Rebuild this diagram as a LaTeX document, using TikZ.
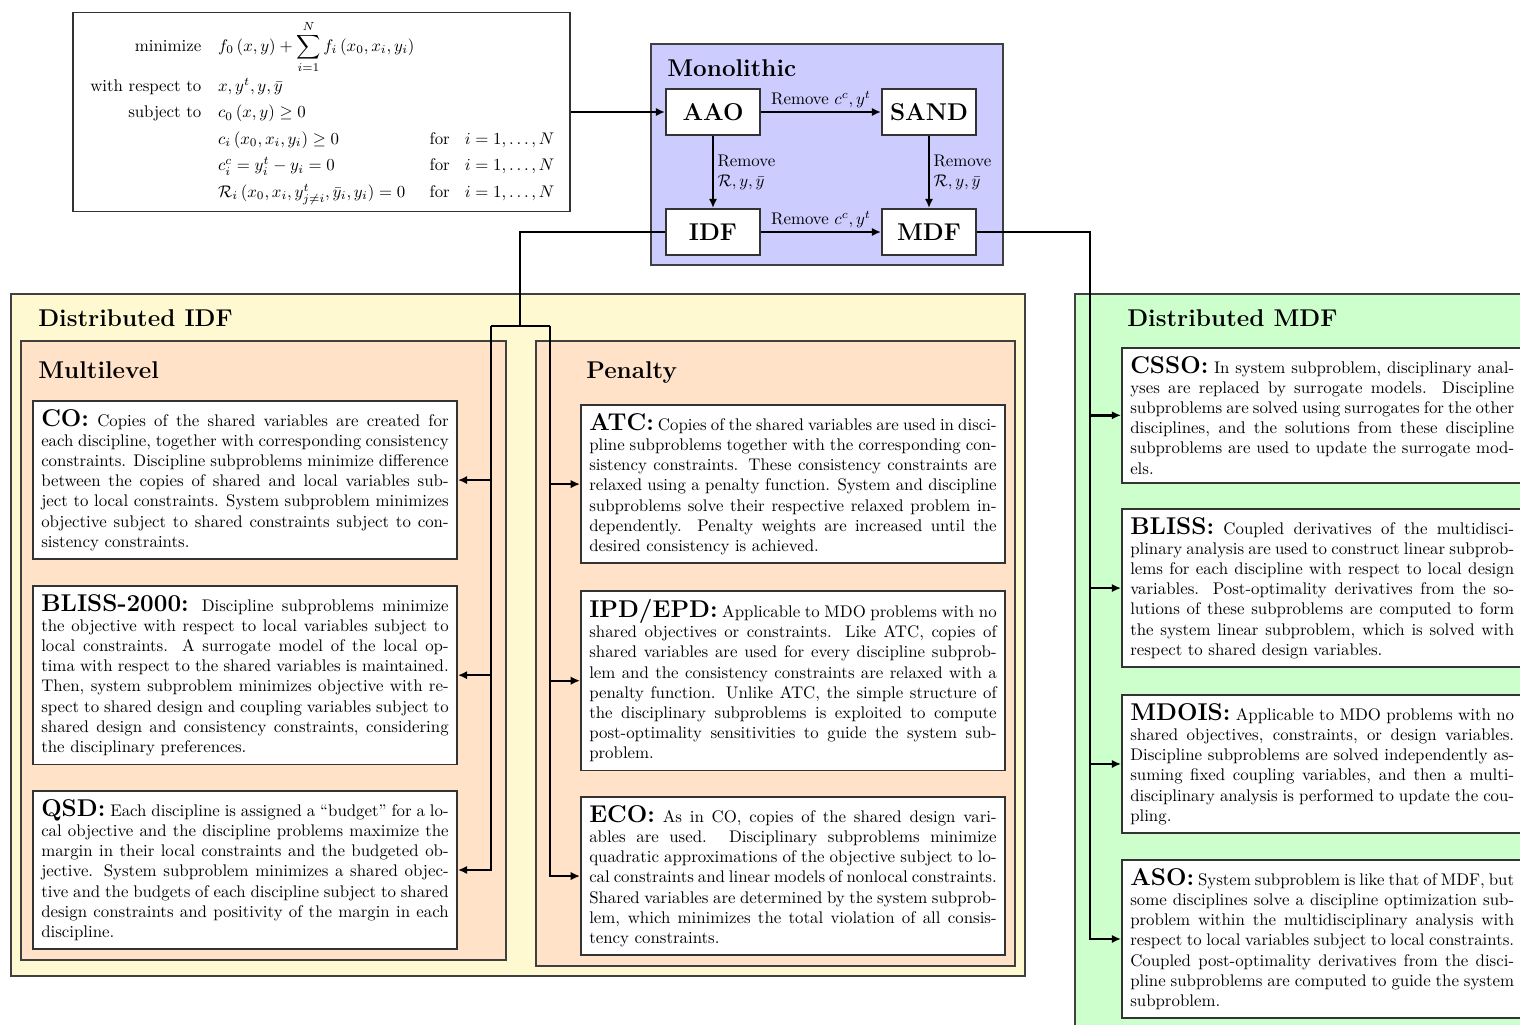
\documentclass[tikz,border=0pt]{standalone}
\usepackage{amsmath,amssymb}
\usetikzlibrary{arrows.meta,fit}
\setlength{\parindent}{0pt}
\definecolor{monofill}{RGB}{204,204,255}
\definecolor{idffill}{RGB}{255,249,210}
\definecolor{penfill}{RGB}{255,226,200}
\definecolor{mdffill}{RGB}{204,255,204}
\newcommand{\pa}[1]{\mathinner{(#1)}}
\begin{document}
\begin{tikzpicture}[x=0.594pt,y=-0.594pt,
  cluster/.style={draw=black!75, line width=1pt, inner sep=0pt},
  desc/.style={draw=black!80, fill=white, line width=1pt, text width=242pt, inner sep=5pt, align=justify, anchor=north west, font=\normalsize},
  descr/.style={desc, text width=228pt},
  mono/.style={draw=black!80, fill=white, line width=1pt, minimum width=56pt, minimum height=27.5pt, font=\Large\bfseries, inner sep=2pt},
  conn/.style={line width=1.4pt, line join=miter},
  arr/.style={conn, -{Latex[length=5.5pt,width=5pt]}},
  ttl/.style={font=\Large\bfseries, anchor=base west, inner sep=0pt},
  lbl/.style={font=\normalsize, inner sep=2pt}]
\path[use as bounding box] (0,0) rectangle (1520,1024);
\clip (0,0) rectangle (1520,1024);

% clusters
\node[cluster, fill=monofill, fit={(651,44) (1003,265)}] (mono) {};
\node[ttl] (monot) at (667,76) {Monolithic};
\node[cluster, fill=idffill, fit={(11,294) (1025,976)}] (didf) {};
\node[ttl] (didft) at (38,326) {Distributed IDF};
\node[cluster, fill=penfill, fit={(21,341) (506,960)}] (multi) {};
\node[ttl] (multit) at (38,378) {Multilevel};
\node[cluster, fill=penfill, fit={(536,341) (1015,966)}] (pen) {};
\node[ttl] (pent) at (586,378) {Penalty};
\node[cluster, fill=mdffill, fit={(1075,294) (1545,1045)}] (dmdf) {};
\node[ttl] (dmdft) at (1127,326) {Distributed MDF};

% formulation
\node[draw=black!80, line width=1pt, fill=white, minimum width=295.2pt, minimum height=118.2pt, inner sep=0pt] (form) at (321.5,112) {};
\node[anchor=west, inner sep=0pt] (formtab) at (90,113) {%
\renewcommand{\arraystretch}{1.31}%
\begin{tabular}{@{}r@{\hspace{10pt}}l@{\hspace{9pt}}l@{\hspace{9pt}}l@{}}
minimize & $f_0\pa{x,y}+\displaystyle\sum_{i=1}^{N} f_i\pa{x_0,x_i,y_i}$ & & \\[2.5pt]
with respect to & $x, y^t, y, \bar{y}$ & & \\
subject to & $c_0\pa{x,y}\geq 0$ & & \\
 & $c_i\pa{x_0,x_i,y_i}\geq 0$ & for & $i=1,\ldots,N$\\
 & $c^c_i = y^t_i - y_i = 0$ & for & $i=1,\ldots,N$\\
 & $\mathcal{R}_i\pa{x_0,x_i,y^t_{j\neq i},\bar{y}_i,y_i}=0$ & for & $i=1,\ldots,N$
\end{tabular}};

% monolithic
\node[mono] (AAO) at (713,112) {AAO};
\node[mono] (SAND) at (929,112) {SAND};
\node[mono] (IDF) at (713,232) {IDF};
\node[mono] (MDF) at (929,232) {MDF};

% distributed IDF boxes
\node[desc] (CO) at (32,400) {{\Large\bfseries CO:} Copies of the shared variables are created for each discipline, together with corresponding consistency constraints. Discipline subproblems minimize difference between the copies of shared and local variables subject to local constraints. System subproblem minimizes objective subject to shared constraints subject to consistency constraints.};
\node[desc] (B2K) at (32,585) {{\Large\bfseries BLISS-2000:} Discipline subproblems minimize the objective with respect to local variables subject to local constraints. A surrogate model of the local optima with respect to the shared variables is maintained. Then, system subproblem minimizes objective with respect to shared design and coupling variables subject to shared design and consistency constraints, considering the disciplinary preferences.};
\node[desc] (QSD) at (32,790) {{\Large\bfseries QSD:} Each discipline is assigned a ``budget'' for a local objective and the discipline problems maximize the margin in their local constraints and the budgeted objective. System subproblem minimizes a shared objective and the budgets of each discipline subject to shared design constraints and positivity of the margin in each discipline.};
\node[desc] (ATC) at (580,404) {{\Large\bfseries ATC:} Copies of the shared variables are used in discipline subproblems together with the corresponding consistency constraints. These consistency constraints are relaxed using a penalty function. System and discipline subproblems solve their respective relaxed problem independently. Penalty weights are increased until the desired consistency is achieved.};
\node[desc] (IPD) at (580,590) {{\Large\bfseries IPD/EPD:} Applicable to MDO problems with no shared objectives or constraints. Like ATC, copies of shared variables are used for every discipline subproblem and the consistency constraints are relaxed with a penalty function. Unlike ATC, the simple structure of the disciplinary subproblems is exploited to compute post-optimality sensitivities to guide the system subproblem.};
\node[desc] (ECO) at (580,796) {{\Large\bfseries ECO:} As in CO, copies of the shared design variables are used. Disciplinary subproblems minimize quadratic approximations of the objective subject to local constraints and linear models of nonlocal constraints. Shared variables are determined by the system subproblem, which minimizes the total violation of all consistency constraints.};

% distributed MDF boxes
\node[descr] (CSSO) at (1121,347) {{\Large\bfseries CSSO:} In system subproblem, disciplinary anal-\linebreak yses are replaced by surrogate models. Discipline\linebreak subproblems are solved using surrogates for the other\linebreak disciplines, and the solutions from these discipline subproblems are used to update the surrogate models.};
\node[descr] (BLISS) at (1121,508) {{\Large\bfseries BLISS:} Coupled derivatives of the multidisciplinary analysis are used to construct linear subproblems for each discipline with respect to local design variables. Post-optimality derivatives from the solutions of these subproblems are computed to form the system linear subproblem, which is solved with respect to shared design variables.};
\node[descr] (MDOIS) at (1121,694) {{\Large\bfseries MDOIS:} Applicable to MDO problems with no shared objectives, constraints, or design variables. Discipline subproblems are solved independently assuming fixed coupling variables, and then a multidisciplinary analysis is performed to update the coupling.};
\node[descr] (ASO) at (1121,859) {{\Large\bfseries ASO:} System subproblem is like that of MDF, but some disciplines solve a discipline optimization subproblem within the multidisciplinary analysis with respect to local variables subject to local constraints. Coupled post-optimality derivatives from the discipline subproblems are computed to guide the system subproblem.};

% monolithic connectors
\draw[arr] (form.east |- AAO.west) -- (AAO.west);
\draw[arr] (AAO) -- node[above, lbl] {Remove $c^c, y^t$} (SAND);
\draw[arr] (AAO) -- node[right, lbl, align=left] {Remove\\$\mathcal{R}, y, \bar{y}$} (IDF);
\draw[arr] (SAND) -- node[right, lbl, align=left] {Remove\\$\mathcal{R}, y, \bar{y}$} (MDF);
\draw[arr] (IDF) -- node[above, lbl] {Remove $c^c, y^t$} (MDF);

% IDF tree
\coordinate (sp) at (520,326);
\coordinate (spl) at (491,326);
\coordinate (spr) at (550,326);
\draw[conn] (IDF.west) -| (sp);
\draw[conn] (spl) -- (spr);
\draw[arr] (spl) |- (QSD.east);
\draw[arr] (spl |- CO.east) -- (CO.east);
\draw[arr] (spl |- B2K.east) -- (B2K.east);
\draw[arr] (spr) |- (ECO.west);
\draw[arr] (spr |- ATC.west) -- (ATC.west);
\draw[arr] (spr |- IPD.west) -- (IPD.west);

% MDF tree
\coordinate (mv) at (1090,232);
\draw[arr] (MDF.east) -- (mv) |- (ASO.west);
\draw[arr] (mv |- CSSO.west) -- (CSSO.west);
\draw[arr] (mv |- BLISS.west) -- (BLISS.west);
\draw[arr] (mv |- MDOIS.west) -- (MDOIS.west);
\end{tikzpicture}
\end{document}
